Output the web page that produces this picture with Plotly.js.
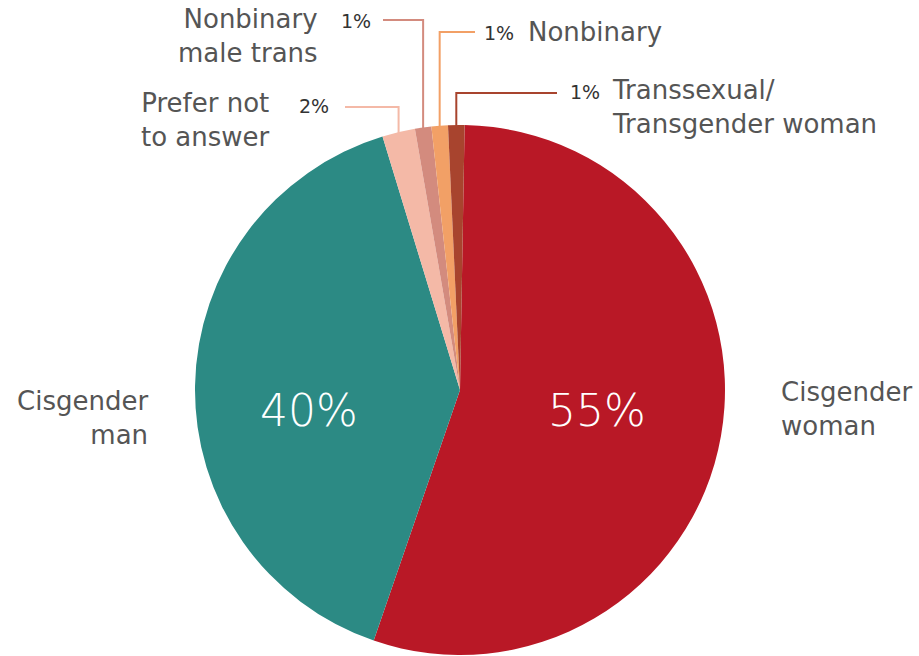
<!DOCTYPE html>
<html>
<head>
<meta charset="utf-8">
<script src="https://cdn.plot.ly/plotly-3.0.1.min.js"></script>
<style>html,body{margin:0;padding:0;background:#fff;}#chart{width:919px;height:656px;}</style>
</head>
<body>
<div id="chart"></div>
<script>
// ---- data ----
const categories = ["Cisgender woman", "Cisgender man", "Prefer not to answer", "Nonbinary male trans", "Nonbinary", "Transsexual/Transgender woman"];
const labelTexts = ["Cisgender<br>woman", "Cisgender<br>man", "Prefer not<br>to answer", "Nonbinary<br>male trans", "Nonbinary", "Transsexual/<br>Transgender woman"];
const values = [55, 40, 2, 1, 1, 1];
const percentLabels = ["55%", "40%", "2%", "1%", "1%", "1%"];
const colors = ["#B91826", "#2C8A84", "#F4B9A7", "#D38B7E", "#F2A066", "#A8442E"];

// ---- layout constants ----
const W = 919, H = 656;
const cx = 460, cy = 390, R = 265;
const rotationDeg = 1;
const px = x => x / W;
const py = y => 1 - y / H;

// mid angles of slices (clockwise from 12 o'clock)
const total = values.reduce((a, b) => a + b, 0);
let cum = 0;
const midAngles = values.map(v => { const a = rotationDeg + (cum + v / 2) / total * 360; cum += v; return a; });
const arcPoint = i => { const t = midAngles[i] * Math.PI / 180; return [cx + R * Math.sin(t), cy - R * Math.cos(t)]; };

const trace = {
  type: "pie",
  labels: categories,
  values: values,
  sort: false,
  direction: "clockwise",
  rotation: rotationDeg,
  marker: { colors: colors, line: { width: 0 } },
  textinfo: "none",
  hoverinfo: "skip",
  showlegend: false,
  domain: { x: [px(195), px(725)], y: [py(655), py(125)] }
};

const labelFont = { family: "DejaVu Sans", size: 26, color: "#555555" };
const pctFont = { family: "DejaVu Sans", size: 19, color: "#333333" };
const bigFont = { family: "DejaVu Sans", size: 44, color: "#ffffff", weight: 200 };

// leader line specs: slice index, elbow y, horizontal end x
const leaders = [
  { i: 2, y: 107, x2: 345 },
  { i: 3, y: 20, x2: 383 },
  { i: 4, y: 32, x2: 475 },
  { i: 5, y: 93, x2: 557 }
];
const shapes = leaders.map(l => {
  const [x0, y0] = arcPoint(l.i);
  return {
    type: "path", xref: "paper", yref: "paper",
    path: `M ${px(x0)} ${py(y0 + 1)} L ${px(x0)} ${py(l.y)} L ${px(l.x2)} ${py(l.y)}`,
    line: { color: colors[l.i], width: 2 }
  };
});

const annotations = [
  // big inside percentages
  { text: percentLabels[0], x: px(597), y: py(410), xanchor: "center", font: bigFont },
  { text: percentLabels[1], x: px(309), y: py(410), xanchor: "center", font: bigFont },
  // category labels
  { text: labelTexts[0], x: px(779), y: py(409), xanchor: "left", align: "left", font: labelFont },
  { text: labelTexts[1], x: px(150), y: py(418), xanchor: "right", align: "right", font: labelFont },
  { text: labelTexts[2], x: px(272), y: py(120), xanchor: "right", align: "right", font: labelFont },
  { text: labelTexts[3], x: px(320), y: py(36), xanchor: "right", align: "right", font: labelFont },
  { text: labelTexts[4], x: px(526), y: py(32), xanchor: "left", align: "left", font: labelFont },
  { text: labelTexts[5], x: px(610), y: py(107), xanchor: "left", align: "left", font: labelFont },
  // small percentages
  { text: percentLabels[2], x: px(331), y: py(106), xanchor: "right", font: pctFont },
  { text: percentLabels[3], x: px(373), y: py(21), xanchor: "right", font: pctFont },
  { text: percentLabels[4], x: px(482), y: py(33), xanchor: "left", font: pctFont },
  { text: percentLabels[5], x: px(568), y: py(92), xanchor: "left", font: pctFont }
].map(a => Object.assign({ xref: "paper", yref: "paper", yanchor: "middle", showarrow: false }, a));

const layout = {
  width: W, height: H,
  margin: { l: 0, r: 0, t: 0, b: 0 },
  paper_bgcolor: "#ffffff",
  showlegend: false,
  shapes: shapes,
  annotations: annotations
};

Plotly.newPlot("chart", [trace], layout, { displayModeBar: false, staticPlot: true });
</script>
</body>
</html>
